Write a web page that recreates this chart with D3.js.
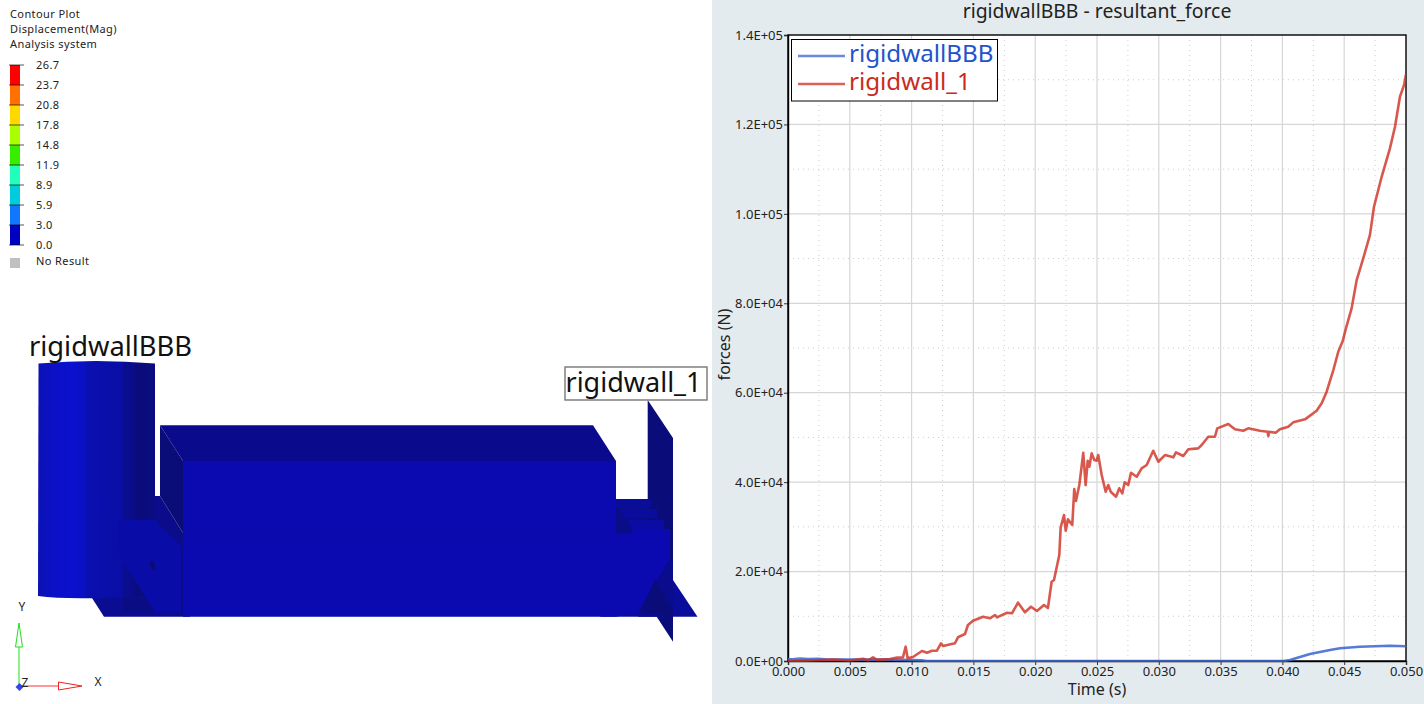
<!DOCTYPE html>
<html><head><meta charset="utf-8">
<style>
html,body{margin:0;padding:0;background:#fff;overflow:hidden}
svg{display:block}
text{font-family:"Noto Sans",sans-serif}
</style>
<script src="https://cdnjs.cloudflare.com/ajax/libs/d3/7.8.5/d3.min.js"></script>
</head><body><svg id="c" width="1424" height="704"></svg>
<script>
// ---------- chart data ----------
const chartTitle = "rigidwallBBB - resultant_force";
const xLabel = "Time (s)";
const yLabel = "forces (N)";
const seriesNames = ["rigidwallBBB", "rigidwall_1"];
const xTicks = [0, .005, .01, .015, .02, .025, .03, .035, .04, .045, .05];
const yTicks = [0, 2e4, 4e4, 6e4, 8e4, 1e5, 1.2e5, 1.4e5];
const xMinor = [.0025, .0075, .0125, .0175, .0225, .0275, .0325, .0375, .0425, .0475];
const yMinor = [1e4, 3e4, 5e4, 7e4, 9e4, 1.1e5, 1.3e5];

const blueTime = [0, .0005, .001, .0016, .0024, .0032, .004, .005, .006, .007, .008, .009, .0100, .0108, .0112,
  .02, .03, .0401, .04061, .04223, .04385, .04466, .04627, .0487, .05];
const blueForce = [400, 450, 550, 450, 500, 300, 350, 300, 350, 300, 300, 250, 200, 150, 0,
  0, 0, 0, 220, 1565, 2460, 2840, 3200, 3420, 3290];

const redTime = [0, .00178, .00364, .00502, .00607, .00647, .00688, .0072, .00825, .00882, .0093, .00952, .00968,
  .01011, .01084, .01125, .01165, .01205, .01238, .01254, .01351, .01375, .01432, .01456, .01497, .01578, .01634,
  .01675, .01691, .01772, .01812, .01861, .01917, .01966, .02014, .02071, .02103, .02133, .02152, .02195, .02206,
  .02233, .02247, .02265, .023, .02316, .0233, .02357, .02389, .02408, .02425, .02438, .02457, .02478, .02497,
  .0251, .02538, .0257, .02591, .02611, .02654, .0268, .02705, .02724, .02753, .02775, .02821, .02861, .02902,
  .02955, .02996, .0305, .03117, .03139, .03198, .03239, .03319, .03347, .034, .03454, .03473, .03562, .03616,
  .03683, .03724, .03818, .03880, .03886, .03892, .03945, .0398, .04047, .04088, .04183, .04277, .04318, .04358, .04412, .04452,
  .04488, .04514, .0456, .04601, .04654, .04708, .04741, .04803, .0487, .04911, .04951, .04984, .05];
const redForce = [0, 100, 300, 100, 500, 150, 800, 250, 450, 750, 800, 3200, 600,
  900, 2240, 1860, 2300, 2300, 3960, 3350, 3960, 5300, 6040, 8050, 9010, 9900, 9550,
  10290, 9770, 10800, 10670, 13040, 10890, 12140, 11180, 12520, 11850, 17730, 18110, 23700, 29900,
  32650, 29130, 31680, 30410, 38460, 35780, 39350, 46580, 39350, 44790, 43450, 46440, 44940, 44790,
  46060, 41590, 37860, 39350, 37860, 36740, 38620, 37500, 39960, 39350, 42100, 41210, 43090, 43830,
  47020, 44560, 46060, 45550, 46660, 45840, 47340, 47560, 48300, 50150, 50150, 52030, 52990, 51810,
  51490, 52030, 51490, 51270, 50300, 51270, 51050, 51810, 52390, 53370, 54040, 55970, 57620, 60220, 65070, 69160,
  71550, 74390, 78860, 85190, 90040, 95250, 101580, 108290, 114640, 119470, 126180, 128790, 131250];

// ---------- contour legend data ----------
const contourHeader = ["Contour Plot", "Displacement(Mag)", "Analysis system"];
const contourLevels = [26.7, 23.7, 20.8, 17.8, 14.8, 11.9, 8.9, 5.9, 3.0, 0.0];
const contourColors = ["#ff0000", "#ff7000", "#ffd800", "#aaff00", "#38ee00", "#22ffbb", "#00ccdd", "#1177ff", "#0000c0"];

// ---------- layout ----------
const svg = d3.select("#c");
const P = {l: 788, r: 1406, t: 35, b: 661};
const x = d3.scaleLinear().domain([0, .05]).range([P.l, P.r]);
const y = d3.scaleLinear().domain([0, 1.4e5]).range([P.b, P.t]);

// ---------- left viewport: 3D model (illustration) ----------
const left = svg.append("g");
const defs = svg.append("defs");
const grad = defs.append("linearGradient").attr("id", "cyl");
[[0, "#0c12b4"], [.12, "#0b11c4"], [.3, "#0a10ce"], [.41, "#0a10c0"], [.42, "#0a0fb0"], [.72, "#0a0ea6"], [.73, "#0a0d8e"],
 [.82, "#0a0d8a"], [.83, "#0a0c7c"], [1, "#0a0c80"]].forEach(s => grad.append("stop").attr("offset", s[0]).attr("stop-color", s[1]));
defs.append("clipPath").attr("id", "plotClip").append("rect").attr("x", P.l).attr("y", P.t).attr("width", P.r - P.l).attr("height", P.b - P.t + 1);

const poly = (pts, fill) => left.append("polygon").attr("points", pts.join(" ")).attr("fill", fill);
// back plate + base
poly([[92,598],[104,616.7],[190,616.7],[190,540],[120,590]], "#0a0c92");
poly([[600,616.7],[660,616.7],[697.5,616.7],[673,580],[640,580]], "#0a0c9c");
// wall on the right
poly([[647.7,400],[673,438],[673,641.7],[656.7,616.7],[647.7,600]], "#0a0c7a");
// stepped blocks behind the right wall
poly([[616,499],[648,499],[648,540],[616,540]], "#0a0c88");
poly([[616,499],[651,499],[651,508],[616,508]], "#0a0c9a");
poly([[620,509],[657,509],[657,518],[624,518]], "#0a0ca0");
poly([[627,520],[664,520],[664,529],[632,529]], "#0a0ca4");
// cylinder
left.append("path").attr("d", "M38.5,363.5 Q95,358.5 155,363.5 L155,596 L100,598 Q60,599 38,596 Z").attr("fill", "url(#cyl)");
// connector behind box left
poly([[154,496],[160,496],[183,533],[183,550],[154,530]], "#0a0c8a");
poly([[123,598],[148,598],[157,612],[123,612]], "#0a0c84");
// left block
poly([[118.5,520],[156,520],[162,529],[175,540],[182,548],[182,612.5],[155,612.5],[120,556]], "#0a0ca8");
poly([[150,562],[154,561],[155,570],[151,569]], "#0a0c70");
// box faces
poly([[160,425.3],[593,425.3],[616,461],[183,461]], "#0a0b8c");
poly([[160,425.3],[183,461],[183,533],[160,496]], "#0a0c78");
poly([[183,461],[616,461],[616,540],[183,540]], "#0a0ab0");
poly([[183,533],[632,533],[632,529],[670,529],[670,559],[638,612],[616,616.7],[183,616.7]], "#0a0ab0");
poly([[670,559],[673,563],[673,616.7],[638,616.7]], "#0a0c8e");
poly([[655,580],[673,610],[673,616.7],[640,611]], "#0a0c7a");
left.append("line").attr("x1",183).attr("x2",610).attr("y1",533).attr("y2",533).attr("stroke","#0a0b9c").attr("stroke-width",0.8);
left.append("line").attr("x1",182).attr("x2",182).attr("y1",548).attr("y2",614).attr("stroke","#0a0b80").attr("stroke-width",0.8);

// contour legend text
contourHeader.forEach((t, i) => left.append("text").attr("x", 10).attr("y", 18 + i * 15)
  .attr("font-size", 11).attr("letter-spacing", ".4").attr("fill", "#222").text(t));
const yLevel = d3.scaleBand().domain(d3.range(contourColors.length)).range([65, 245]);
left.selectAll("rect.cb").data(contourColors).join("rect").attr("class", "cb")
  .attr("x", 10).attr("width", 10).attr("y", (d, i) => yLevel(i)).attr("height", yLevel.bandwidth()).attr("fill", d => d);
contourLevels.forEach((v, i) => {
  const yy = 65 + i * yLevel.bandwidth();
  left.append("line").attr("x1", 9).attr("x2", 24).attr("y1", yy).attr("y2", yy).attr("stroke", "#000").attr("stroke-opacity", .55).attr("stroke-width", 1.2);
  left.append("text").attr("x", 36).attr("y", yy + 4).attr("font-size", 11).attr("letter-spacing", ".4").attr("fill", "#222").text(v.toFixed(1));
});
left.append("rect").attr("x", 10).attr("y", 258).attr("width", 10).attr("height", 10).attr("fill", "#c0c0c0");
left.append("text").attr("x", 36).attr("y", 265).attr("font-size", 11).attr("letter-spacing", ".4").attr("fill", "#222").text("No Result");

// viewport labels
left.append("text").attr("x", 29).attr("y", 355.5).attr("font-size", 27.3).attr("fill", "#111").text(seriesNames[0]);
left.append("rect").attr("x", 565).attr("y", 367).attr("width", 142).attr("height", 33).attr("fill", "#fff").attr("stroke", "#777").attr("stroke-width", 1.4);
left.append("text").attr("x", 565.5).attr("y", 392).attr("font-size", 27).attr("fill", "#111").text(seriesNames[1]);

// triad
left.append("line").attr("x1", 19).attr("x2", 19).attr("y1", 686).attr("y2", 640).attr("stroke", "#66ee66").attr("stroke-width", 1.5);
left.append("polygon").attr("points", "19,623 15.5,647 22.5,647").attr("fill", "#fff").attr("stroke", "#22dd22").attr("stroke-width", 1);
left.append("line").attr("x1", 19).attr("x2", 60).attr("y1", 686).attr("y2", 686).attr("stroke", "#ff7777").attr("stroke-width", 1.5);
left.append("polygon").attr("points", "82,686 58.5,682 58.5,690").attr("fill", "#fff").attr("stroke", "#ee2222").attr("stroke-width", 1);
left.append("polygon").attr("points", "19.5,683 23.5,687 19.5,691 15.5,687").attr("fill", "#3344ee");
[["Y", 22, 611], ["Z", 25, 687], ["X", 98, 686]].forEach(d =>
  left.append("text").attr("x", d[1]).attr("y", d[2]).attr("text-anchor", "middle").attr("font-size", 12).attr("fill", "#222").text(d[0]));

// ---------- right panel ----------
svg.append("rect").attr("x", 712).attr("y", 0).attr("width", 712).attr("height", 704).attr("fill", "#e4ebef");
svg.append("rect").attr("x", P.l).attr("y", P.t).attr("width", P.r - P.l).attr("height", P.b - P.t).attr("fill", "#fff");

const grid = svg.append("g");
grid.selectAll("line.mx").data(xMinor).join("line").attr("x1", x).attr("x2", x).attr("y1", P.t).attr("y2", P.b)
  .attr("stroke", "#cfcfcf").attr("stroke-width", 1).attr("stroke-dasharray", "1 4");
grid.selectAll("line.my").data(yMinor).join("line").attr("y1", y).attr("y2", y).attr("x1", P.l).attr("x2", P.r)
  .attr("stroke", "#cfcfcf").attr("stroke-width", 1).attr("stroke-dasharray", "1 4");
grid.selectAll("line.gx").data(xTicks.slice(1, -1)).join("line").attr("class", "gx").attr("x1", x).attr("x2", x).attr("y1", P.t).attr("y2", P.b)
  .attr("stroke", "#d6d6d6").attr("stroke-width", 1.2);
grid.selectAll("line.gy").data(yTicks.slice(1, -1)).join("line").attr("class", "gy").attr("y1", y).attr("y2", y).attr("x1", P.l).attr("x2", P.r)
  .attr("stroke", "#d6d6d6").attr("stroke-width", 1.2);

// axes and frame go under the curves
const xAxis = d3.axisBottom(x).tickValues(xTicks).tickFormat(d3.format(".3f")).tickSizeOuter(0).tickSize(4).tickPadding(2);
const yFmt = v => { const s = v.toExponential(1).toUpperCase().split("E"); const e = +s[1]; return s[0] + "E+" + String(e).padStart(2, "0"); };
const yAxis = d3.axisLeft(y).tickValues(yTicks).tickFormat(yFmt).tickSizeOuter(0).tickSize(4).tickPadding(1);
const gx = svg.append("g").attr("transform", `translate(0,${P.b})`).call(xAxis);
const gy = svg.append("g").attr("transform", `translate(${P.l},0)`).call(yAxis);
[gx, gy].forEach(g => {
  g.selectAll("text").attr("font-size", 13).attr("fill", "#222").style("font-family", '"Noto Sans",sans-serif');
  g.selectAll("line").attr("stroke", "#333");
  g.select(".domain").attr("stroke", "#000").attr("stroke-width", 1.4);
});
svg.append("rect").attr("x", P.l).attr("y", P.t).attr("width", P.r - P.l).attr("height", P.b - P.t)
  .attr("fill", "none").attr("stroke", "#000").attr("stroke-width", 1.4);

const lineGen = d3.line().x(d => x(d[0])).y(d => y(d[1]));
const plot = svg.append("g").attr("clip-path", "url(#plotClip)");
plot.append("path").attr("d", lineGen(d3.zip(blueTime, blueForce))).attr("fill", "none")
  .attr("stroke", "#3a63d0").attr("stroke-opacity", .85).attr("stroke-width", 2.6).attr("stroke-linejoin", "round");
plot.append("path").attr("d", lineGen(d3.zip(redTime, redForce))).attr("fill", "none")
  .attr("stroke", "#cf2e20").attr("stroke-opacity", .8).attr("stroke-width", 2.6).attr("stroke-linejoin", "round");

svg.append("text").attr("x", 1097).attr("y", 18).attr("text-anchor", "middle").attr("font-size", 19.4).attr("fill", "#222").text(chartTitle);
svg.append("text").attr("x", 1097).attr("y", 695).attr("text-anchor", "middle").attr("font-size", 16).attr("fill", "#222").text(xLabel);
svg.append("text").attr("transform", "translate(730,344.5) rotate(-90)").attr("text-anchor", "middle").attr("font-size", 16).attr("fill", "#222").text(yLabel);

// legend
svg.append("rect").attr("x", 791.5).attr("y", 39.5).attr("width", 206).attr("height", 61.5).attr("fill", "#fff").attr("stroke", "#000").attr("stroke-width", 1);
const legendStroke = ["#3a63d0", "#cf2e20"], legendText = ["#2253cc", "#cc2a1c"];
seriesNames.forEach((n, i) => {
  const yy = 56 + i * 28;
  svg.append("line").attr("x1", 798).attr("x2", 845).attr("y1", yy).attr("y2", yy).attr("stroke", legendStroke[i]).attr("stroke-opacity", .75).attr("stroke-width", 2.6);
  svg.append("text").attr("x", 849).attr("y", yy + 6).attr("font-size", 24.2).attr("fill", legendText[i]).text(n);
});
</script></body></html>
